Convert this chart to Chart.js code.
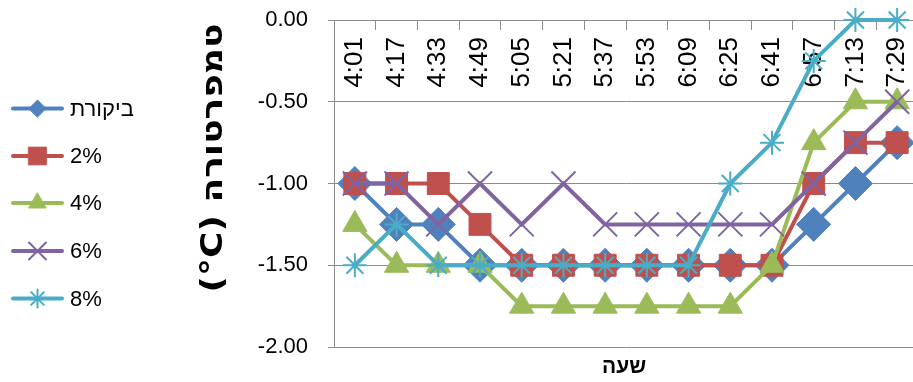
<!DOCTYPE html>
<html>
<head>
<meta charset="utf-8">
<script src="https://cdn.jsdelivr.net/npm/chart.js@4.4.1/dist/chart.umd.min.js"></script>
<style>
  html, body { margin: 0; padding: 0; background: #ffffff; overflow: hidden; }
  #wrap { width: 913px; height: 382px; position: relative; overflow: hidden; }
</style>
</head>
<body>
<div id="wrap"><canvas id="chart" width="937" height="382"></canvas></div>
<script>
// Measurement times (hour:minute)
const times = ['4:01', '4:17', '4:33', '4:49', '5:05', '5:21', '5:37', '5:53', '6:09', '6:25', '6:41', '6:57', '7:13', '7:29'];

// Series names
const seriesNames = ['ביקורת', '2%', '4%', '6%', '8%'];

// Temperature readings (°C) per series
const controlTemps = [-1.00, -1.25, -1.25, -1.50, -1.50, -1.50, -1.50, -1.50, -1.50, -1.50, -1.50, -1.25, -1.00, -0.75];
const temps2 = [-1.00, -1.00, -1.00, -1.25, -1.50, -1.50, -1.50, -1.50, -1.50, -1.50, -1.50, -1.00, -0.75, -0.75];
const temps4 = [-1.25, -1.50, -1.50, -1.50, -1.75, -1.75, -1.75, -1.75, -1.75, -1.75, -1.50, -0.75, -0.50, -0.50];
const temps6 = [-1.00, -1.00, -1.25, -1.00, -1.25, -1.00, -1.25, -1.25, -1.25, -1.25, -1.25, -1.00, -0.75, -0.50];
const temps8 = [-1.50, -1.25, -1.50, -1.50, -1.50, -1.50, -1.50, -1.50, -1.50, -1.00, -0.75, -0.25, 0.00, 0.00];

// Value axis tick labels
const yTicks = [0, -0.5, -1, -1.5, -2];

// Axis titles
const xTitle = 'שעה';
const yTitle = '(°C) טמפרטורה';

const seriesValues = [controlTemps, temps2, temps4, temps6, temps8];
const colors = ['#4F81BD', '#C0504D', '#9BBB59', '#8064A2', '#4BACC6'];
const styles = [
  { pointStyle: 'rectRot',  radius: 17,   border: 1, legendRadius: 8.5 },
  { pointStyle: 'rect',     radius: 15.5, border: 1, legendRadius: 12.5 },
  { pointStyle: 'triangle', radius: 14,   border: 1, legendRadius: 10 },
  { pointStyle: 'crossRot', radius: 17,   border: 2, legendRadius: 12 },
  { pointStyle: 'star',     radius: 12,   border: 2, legendRadius: 9 }
];

const GRID = '#8c8c8c';
const FONT = '"Liberation Sans", Arial, "DejaVu Sans", sans-serif';
const TITLE_FONT = '"DejaVu Sans", "Liberation Sans", Arial, sans-serif';

const datasets = seriesNames.map((name, i) => ({
  label: name,
  data: seriesValues[i],
  borderColor: colors[i],
  backgroundColor: colors[i],
  borderWidth: 4,
  pointStyle: styles[i].pointStyle,
  pointRadius: styles[i].radius,
  pointBorderWidth: styles[i].border,
  pointBackgroundColor: colors[i],
  pointBorderColor: colors[i],
  tension: 0,
  fill: false,
  clip: false,
  // later series are painted over earlier ones
  order: seriesNames.length - 1 - i
}));

// Legend on the left plus the two axis titles
const sideTexts = {
  id: 'sideTexts',
  afterDraw(chart) {
    const ctx = chart.ctx;
    ctx.save();
    // legend
    const rowY = [108.5, 156, 203, 251, 298.5];
    chart.data.datasets.forEach((ds, i) => {
      const y = rowY[i];
      ctx.strokeStyle = ds.borderColor;
      ctx.lineWidth = 4;
      ctx.lineCap = 'round';
      ctx.beginPath();
      ctx.moveTo(13, y);
      ctx.lineTo(62, y);
      ctx.stroke();
      ctx.fillStyle = ds.borderColor;
      ctx.strokeStyle = ds.borderColor;
      ctx.lineWidth = ds.pointBorderWidth;
      Chart.helpers.drawPoint(ctx, {
        pointStyle: ds.pointStyle,
        radius: styles[i].legendRadius,
        borderWidth: ds.pointBorderWidth,
        rotation: 0
      }, 37.5, y);
      ctx.fillStyle = '#000000';
      ctx.font = '22px ' + FONT;
      ctx.textAlign = 'left';
      ctx.textBaseline = 'middle';
      ctx.direction = 'ltr';
      ctx.fillText(ds.label, 70, y + 1);
    });
    // value axis title, set in a wide bold face
    ctx.save();
    ctx.translate(214, 158);
    ctx.rotate(-Math.PI / 2);
    ctx.scale(1.2, 1);
    ctx.font = 'bold 30px ' + TITLE_FONT;
    ctx.fillStyle = '#000000';
    ctx.textAlign = 'center';
    ctx.textBaseline = 'middle';
    ctx.direction = 'ltr';
    ctx.fillText(yTitle, 0, 0);
    ctx.restore();
    // category axis title
    ctx.font = 'bold 21px ' + FONT;
    ctx.fillStyle = '#000000';
    ctx.textAlign = 'center';
    ctx.textBaseline = 'middle';
    ctx.fillText(xTitle, 624, 367);
    ctx.restore();
  }
};

new Chart(document.getElementById('chart'), {
  type: 'line',
  data: { labels: times, datasets },
  options: {
    responsive: false,
    animation: false,
    devicePixelRatio: 1,
    events: [],
    layout: { padding: { left: 0, right: 3, top: 20, bottom: 35 } },
    plugins: {
      legend: { display: false },
      tooltip: { enabled: false },
      title: { display: false }
    },
    scales: {
      x: {
        type: 'category',
        position: { y: 0 },
        offset: true,
        afterFit(scale) {
          scale.paddingLeft = 0;
          scale.paddingRight = 0;
          scale.paddingTop = 0;
          scale.paddingBottom = 0;
        },
        grid: {
          offset: true,
          drawOnChartArea: false,
          drawTicks: true,
          tickLength: 9,
          color: GRID,
          lineWidth: 1
        },
        border: { display: true, color: GRID, width: 1 },
        ticks: {
          autoSkip: false,
          minRotation: 90,
          maxRotation: 90,
          padding: 8,
          color: '#000000',
          font: { family: FONT, size: 26 }
        }
      },
      y: {
        min: -2,
        max: 0,
        afterFit(scale) {
          scale.width = 334;
          scale.paddingTop = 0;
          scale.paddingBottom = 0;
        },
        afterBuildTicks(scale) { scale.ticks = yTicks.map(v => ({ value: v })); },
        grid: {
          color: GRID,
          lineWidth: 1,
          drawTicks: true,
          tickLength: 6
        },
        border: { display: true, color: GRID, width: 1 },
        ticks: {
          padding: 20,
          color: '#000000',
          font: { family: FONT, size: 22 },
          callback: v => Number(v).toFixed(2)
        }
      }
    }
  },
  plugins: [sideTexts]
});
</script>
</body>
</html>
